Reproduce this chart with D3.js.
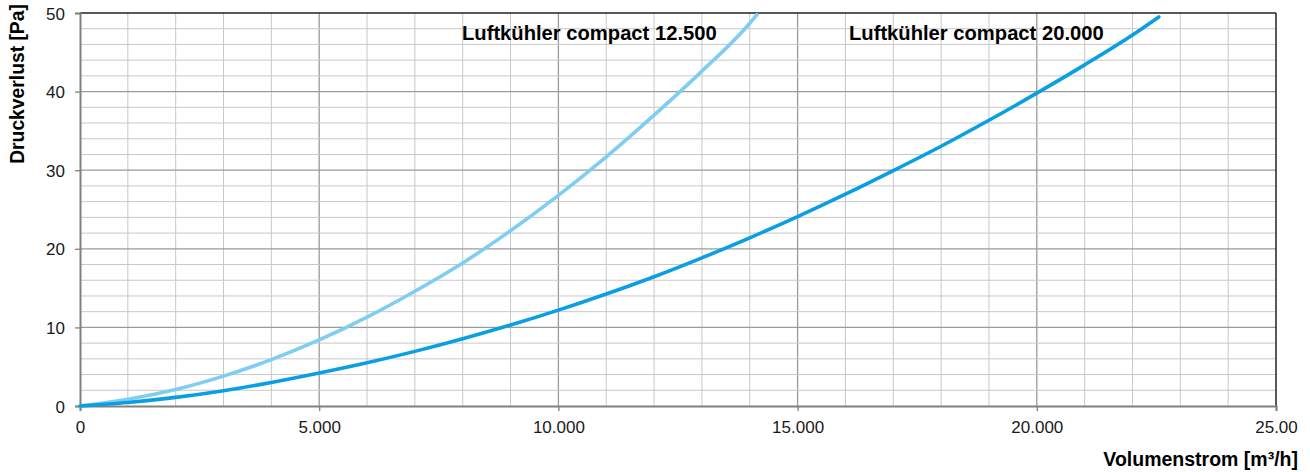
<!DOCTYPE html>
<html>
<head>
<meta charset="utf-8">
<script src="https://cdn.jsdelivr.net/npm/d3@7"></script>
<style>
  body { margin: 0; background: #fff; }
  svg { display: block; font-family: "Liberation Sans", Arial, sans-serif; }
</style>
</head>
<body>
<div id="chart"></div>
<script>
// DATA =======================================
const flow = [0, 1000, 2000, 3000, 4000, 5000, 6000, 7000, 8000, 9000, 10000,
  11000, 12000, 13000, 14000, 15000, 16000, 17000, 18000, 19000, 20000, 21000, 22000, 22550];
const dp12500 = [0, 0.85, 2.1, 3.8, 5.9, 8.4, 11.3, 14.6, 18.2, 22.3, 26.8,
  31.7, 37.0, 42.6, 48.7];
const flow12500End = 14150;
const dp12500End = 49.8;
const dp20000 = [0, 0.45, 1.1, 1.95, 3.0, 4.2, 5.5, 6.95, 8.55, 10.3, 12.2,
  14.25, 16.45, 18.85, 21.4, 24.1, 26.95, 29.95, 33.05, 36.35, 39.8, 43.4, 47.2, 49.5];

const seriesNames = ["Luftkühler compact 12.500", "Luftkühler compact 20.000"];
const seriesColors = ["#80cdf2", "#0a9fe2"];

const xTicks = [0, 5000, 10000, 15000, 20000, 25000];
const xTickLabels = ["0", "5.000", "10.000", "15.000", "20.000", "25.00"];
const yTicks = [0, 10, 20, 30, 40, 50];

// LAYOUT =====================================
const width = 1310, height = 472;
const m = { left: 80, right: 1276, top: 13, bottom: 406 };

const svg = d3.select("#chart").append("svg")
  .attr("width", width)
  .attr("height", height);

const x = d3.scaleLinear().domain([0, 25000]).range([m.left, m.right]);
const y = d3.scaleLinear().domain([0, 50]).range([m.bottom, m.top]);

// GRID =======================================
const grid = svg.append("g");

grid.selectAll("line.vx")
  .data(d3.range(1000, 25000, 1000))
  .join("line")
  .attr("class", "vx")
  .attr("x1", d => x(d)).attr("x2", d => x(d))
  .attr("y1", m.top).attr("y2", m.bottom)
  .attr("stroke", d => d % 5000 === 0 ? "#9a9a9a" : "#c8c8c8")
  .attr("stroke-width", d => d % 5000 === 0 ? 1.3 : 1);

grid.selectAll("line.hy")
  .data(d3.range(2, 50, 2))
  .join("line")
  .attr("class", "hy")
  .attr("x1", m.left).attr("x2", m.right)
  .attr("y1", d => y(d)).attr("y2", d => y(d))
  .attr("stroke", d => d % 10 === 0 ? "#9a9a9a" : "#c8c8c8")
  .attr("stroke-width", d => d % 10 === 0 ? 1.3 : 1);

// frame top / right
svg.append("line")
  .attr("x1", m.left).attr("x2", m.right).attr("y1", m.top).attr("y2", m.top)
  .attr("stroke", "#222").attr("stroke-width", 1.5);
svg.append("line")
  .attr("x1", m.right).attr("x2", m.right).attr("y1", m.top).attr("y2", m.bottom)
  .attr("stroke", "#222").attr("stroke-width", 1.5);

// AXES =======================================
const xAxis = svg.append("g")
  .attr("transform", `translate(0,${m.bottom})`)
  .call(d3.axisBottom(x)
    .tickValues(xTicks)
    .tickSize(5)
    .tickPadding(10)
    .tickFormat((d, i) => xTickLabels[i]));

const yAxis = svg.append("g")
  .attr("transform", `translate(${m.left},0)`)
  .call(d3.axisLeft(y)
    .tickValues(yTicks)
    .tickSize(5)
    .tickPadding(10));

[xAxis, yAxis].forEach(a => {
  a.select(".domain").attr("stroke", "#808080").attr("stroke-width", 2);
  a.selectAll(".tick line").attr("stroke", "#808080").attr("stroke-width", 1.3);
  a.selectAll(".tick text")
    .attr("fill", "#1a1a1a")
    .style("font-size", "17px")
    .style("font-family", "'Liberation Sans', Arial, sans-serif");
});
yAxis.selectAll(".tick text").attr("dy", "0.36em");

// CURVES =====================================
const line = d3.line()
  .x(d => x(d[0]))
  .y(d => y(d[1]))
  .curve(d3.curveMonotoneX);

const pts12500 = dp12500.map((v, i) => [flow[i], v]).concat([[flow12500End, dp12500End]]);
const pts20000 = dp20000.map((v, i) => [flow[i], v]);

svg.selectAll("path.curve")
  .data([pts12500, pts20000])
  .join("path")
  .attr("class", "curve")
  .attr("d", line)
  .attr("fill", "none")
  .attr("stroke", (d, i) => seriesColors[i])
  .attr("stroke-width", 3.6)
  .attr("stroke-linecap", "round");

// LABELS =====================================
const labelPos = [[462, 40], [849, 40]];
svg.selectAll("text.series")
  .data(seriesNames)
  .join("text")
  .attr("class", "series")
  .attr("x", (d, i) => labelPos[i][0])
  .attr("y", (d, i) => labelPos[i][1])
  .style("font-size", "20.2px")
  .style("font-weight", 700)
  .attr("fill", "#000")
  .text(d => d);

svg.append("text")
  .attr("transform", "translate(24,84) rotate(-90)")
  .attr("text-anchor", "middle")
  .style("font-size", "19.3px")
  .style("font-weight", 700)
  .attr("fill", "#000")
  .text("Druckverlust [Pa]");

svg.append("text")
  .attr("x", 1298)
  .attr("y", 466)
  .attr("text-anchor", "end")
  .style("font-size", "19.5px")
  .style("font-weight", 700)
  .attr("fill", "#000")
  .text("Volumenstrom [m³/h]");
</script>
</body>
</html>
